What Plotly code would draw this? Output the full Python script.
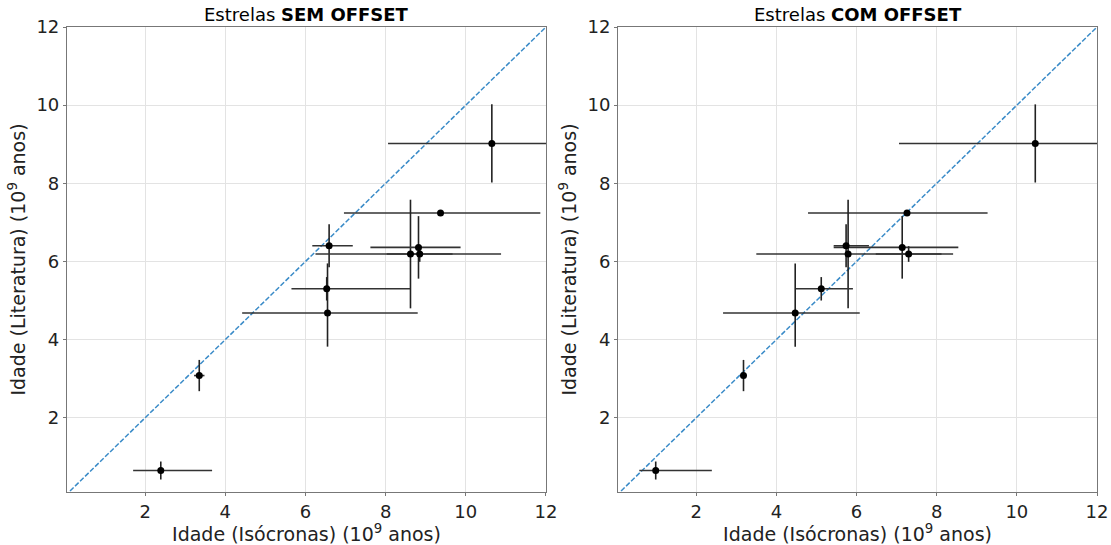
import plotly.graph_objects as go

# ---- data (ages in 10^9 years) ----
lit_age = [9.02, 7.24, 6.40, 6.19, 6.36, 6.19, 5.30, 4.68, 3.08, 0.65]
lit_err_plus = [1.0, 0.0, 0.55, 1.39, 0.80, 0.20, 0.30, 1.27, 0.40, 0.23]
lit_err_minus = [1.0, 0.0, 0.55, 1.39, 0.80, 0.20, 0.30, 0.86, 0.40, 0.23]

iso_sem = [10.65, 9.37, 6.59, 8.62, 8.82, 8.85, 6.53, 6.55, 3.35, 2.39]
iso_sem_minus = [2.59, 2.41, 0.42, 2.37, 1.20, 0.82, 0.88, 2.13, 0.13, 0.69]
iso_sem_plus = [2.60, 2.49, 0.59, 2.26, 1.05, 0.82, 2.08, 2.25, 0.13, 1.28]

iso_com = [10.46, 7.26, 5.74, 5.79, 7.14, 7.30, 5.12, 4.47, 3.18, 0.99]
iso_com_minus = [3.40, 2.47, 0.31, 2.29, 1.71, 0.82, 0.65, 1.80, 0.05, 0.41]
iso_com_plus = [3.00, 2.01, 0.57, 2.62, 1.40, 0.82, 0.79, 1.61, 0.05, 1.40]

diag = [0, 12]
tick_vals = [2, 4, 6, 8, 10, 12]
titles = ["Estrelas <b>SEM OFFSET</b>", "Estrelas <b>COM OFFSET</b>"]
x_title = "Idade (Isócronas) (10<sup>9</sup> anos)"
y_title = "Idade (Literatura) (10<sup>9</sup> anos)"

FONT = "DejaVu Sans"
FS = 18
fig = go.Figure()

panels = [("x", "y", iso_sem, iso_sem_minus, iso_sem_plus),
          ("x2", "y2", iso_com, iso_com_minus, iso_com_plus)]
for xa, ya, xs, xm, xp in panels:
    fig.add_trace(go.Scatter(x=diag, y=diag, mode="lines", xaxis=xa, yaxis=ya,
                             line=dict(color="#3a8bc8", width=1.5, dash="5px,2px"),
                             showlegend=False, hoverinfo="skip"))
    fig.add_trace(go.Scatter(
        x=xs, y=lit_age, mode="markers", xaxis=xa, yaxis=ya, showlegend=False,
        marker=dict(color="black", size=7),
        error_x=dict(type="data", symmetric=False, array=xp, arrayminus=xm,
                     color="#333333", thickness=1.6, width=0),
        error_y=dict(type="data", symmetric=False, array=lit_err_plus,
                     arrayminus=lit_err_minus, color="#222222", thickness=1.6, width=0),
    ))

axis_common = dict(range=[0.05, 12], tickvals=tick_vals, showgrid=True,
                   gridcolor="#e3e3e3", gridwidth=1, zeroline=False,
                   showline=True, linecolor="#777777", linewidth=1.2, mirror=True,
                   ticks="outside", ticklen=3, tickcolor="#777777",
                   tickfont=dict(family=FONT, size=FS, color="#222222"),
                   automargin=False)
yaxis_common = dict(axis_common)
yaxis_common["range"] = [0.1, 12]

tfont = dict(family=FONT, size=19, color="#222222")
fig.update_layout(
    width=1111, height=545,
    margin=dict(l=67, r=14, t=27, b=53),
    paper_bgcolor="white", plot_bgcolor="white",
    xaxis=dict(axis_common, domain=[0, 0.4650], anchor="y",
               title=dict(text=x_title, font=tfont, standoff=1)),
    yaxis=dict(yaxis_common, domain=[0, 1], anchor="x",
               title=dict(text=y_title, font=tfont, standoff=5)),
    xaxis2=dict(axis_common, domain=[0.5350, 1.0], anchor="y2",
                title=dict(text=x_title, font=tfont, standoff=1)),
    yaxis2=dict(yaxis_common, domain=[0, 1], anchor="x2",
                title=dict(text=y_title, font=tfont, standoff=5)),
    annotations=[
        dict(text=titles[0], x=0.2325, y=1.0, xref="paper", yref="paper",
             xanchor="center", yanchor="bottom", yshift=0, showarrow=False,
             font=dict(family=FONT, size=FS, color="black")),
        dict(text=titles[1], x=0.7675, y=1.0, xref="paper", yref="paper",
             xanchor="center", yanchor="bottom", yshift=0, showarrow=False,
             font=dict(family=FONT, size=FS, color="black")),
    ],
)

fig.write_html("out.html")
